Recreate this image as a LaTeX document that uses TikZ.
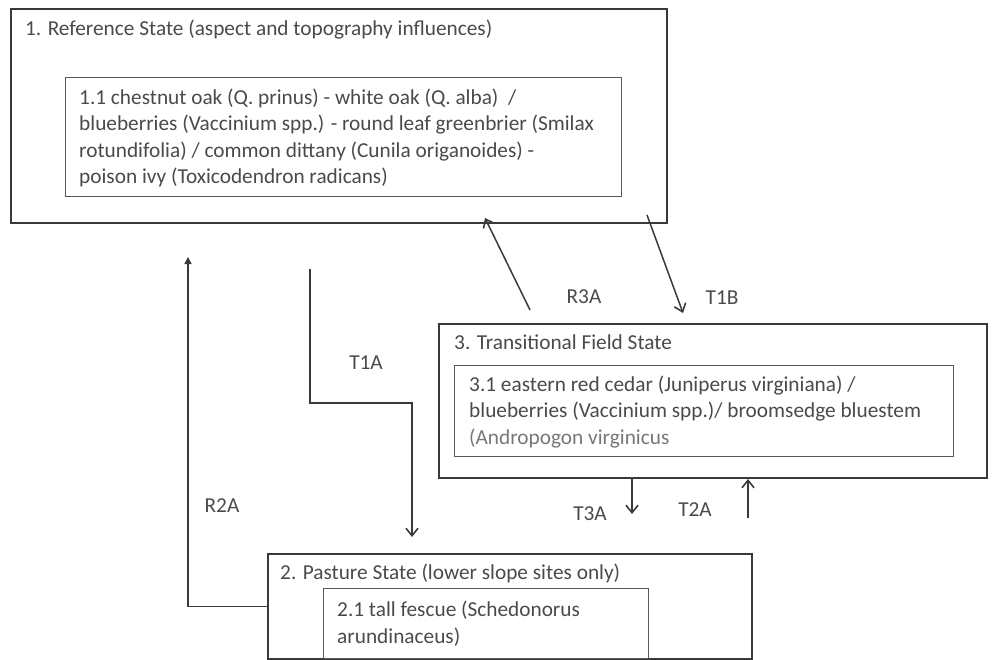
\documentclass[tikz,border=0pt]{standalone}
\usepackage{fontspec}
\setmainfont{Carlito}
\usetikzlibrary{arrows.meta}
\definecolor{txt}{HTML}{4A4A4A}
\definecolor{txtlight}{HTML}{777777}
\definecolor{ln}{HTML}{3A3A3A}
\tikzset{
  outerbox/.style={draw=ln, line width=2pt, rectangle, anchor=north west, inner sep=0pt},
  innerbox/.style={draw=ln!85, line width=1.4pt, rectangle, anchor=north west, inner sep=0pt},
  txtblock/.style={anchor=north west, inner sep=0pt, align=left, text=txt, font=\fontsize{21.3}{26.5}\selectfont},
  lab/.style={anchor=center, inner sep=0pt, text=txt, font=\fontsize{21.3}{26.5}\selectfont},
  arr/.style={draw=ln, line width=1.5pt, -{Straight Barb[length=7.5pt,width=12pt,line width=1.6pt]}},
  arrtri/.style={draw=ln, line width=1.5pt, -{Triangle[length=7pt,width=7pt]}}
}
\begin{document}
\begin{tikzpicture}[x=1pt,y=-1pt]
\useasboundingbox (0,0) rectangle (992,659);
\clip (0,0) rectangle (992,659);
% boxes
\node[outerbox, minimum width=656pt, minimum height=214pt] (b1) at (10,8) {};
\node[innerbox, minimum width=556pt, minimum height=119pt] (i1) at (65,77) {};
\node[outerbox, minimum width=548pt, minimum height=154pt] (b3) at (438,323) {};
\node[innerbox, minimum width=499pt, minimum height=91pt] (i3) at (454,365) {};
\node[outerbox, minimum width=484pt, minimum height=105pt] (b2) at (267,553) {};
\node[innerbox, minimum width=325pt, minimum height=70pt] (i2) at (323,588) {};
% texts
\node[txtblock] (t1) at (25,16.5) {\strut 1. Reference State (aspect and topography influences)};
\node[txtblock] (t11) at (79,85.5) {\strut 1.1 chestnut oak (Q. prinus) - white oak (Q. alba)~ /\\
\strut blueberries (Vaccinium spp.) - round leaf greenbrier (Smilax\\
\strut rotundifolia) / common dittany (Cunila origanoides) -\\
\strut poison ivy (Toxicodendron radicans)};
\node[txtblock] (t3) at (454,331) {\strut 3. Transitional Field State};
\node[txtblock] (t31) at (469,372.5) {\strut 3.1 eastern red cedar (Juniperus virginiana) /\\
\strut blueberries (Vaccinium spp.)/ broomsedge bluestem\\
\strut\textcolor{txtlight}{(Andropogon virginicus}};
\node[txtblock] (t2) at (280,561) {\strut 2. Pasture State (lower slope sites only)};
\node[txtblock] (t21) at (337,598) {\strut 2.1 tall fescue (Schedonorus\\
\strut arundinaceus)};
% connector end points
\coordinate (r2aend) at (188,257);
\coordinate (t1astart) at (310,269);
\coordinate (t1abend) at (310,403);
\coordinate (t1acorner) at (412,403);
\coordinate (t1aend) at (412,537);
\coordinate (r3astart) at (530,310);
\coordinate (r3aend) at (485,218);
\coordinate (t1bstart) at (647,215);
\coordinate (t1bend) at (683,313);
\coordinate (t3aend) at (632,514);
\coordinate (t2astart) at (748,518);
% connectors
\draw[arrtri] (b2.west) -| (r2aend);
\draw[arr] (t1astart) -- (t1abend) -- (t1acorner) -- (t1aend);
\draw[arr] (r3astart) -- (r3aend);
\draw[arr] (t1bstart) -- (t1bend);
\draw[arr] (b3.south -| t3aend) -- (t3aend);
\draw[arr] (t2astart) -- (b3.south -| t2astart);
% labels
\node[lab] (lr2a) at (222,506) {R2A};
\node[lab] (lt1a) at (366,363) {T1A};
\node[lab] (lr3a) at (584,297) {R3A};
\node[lab] (lt1b) at (722,298) {T1B};
\node[lab] (lt3a) at (590,514) {T3A};
\node[lab] (lt2a) at (695,510) {T2A};
\end{tikzpicture}
\end{document}
